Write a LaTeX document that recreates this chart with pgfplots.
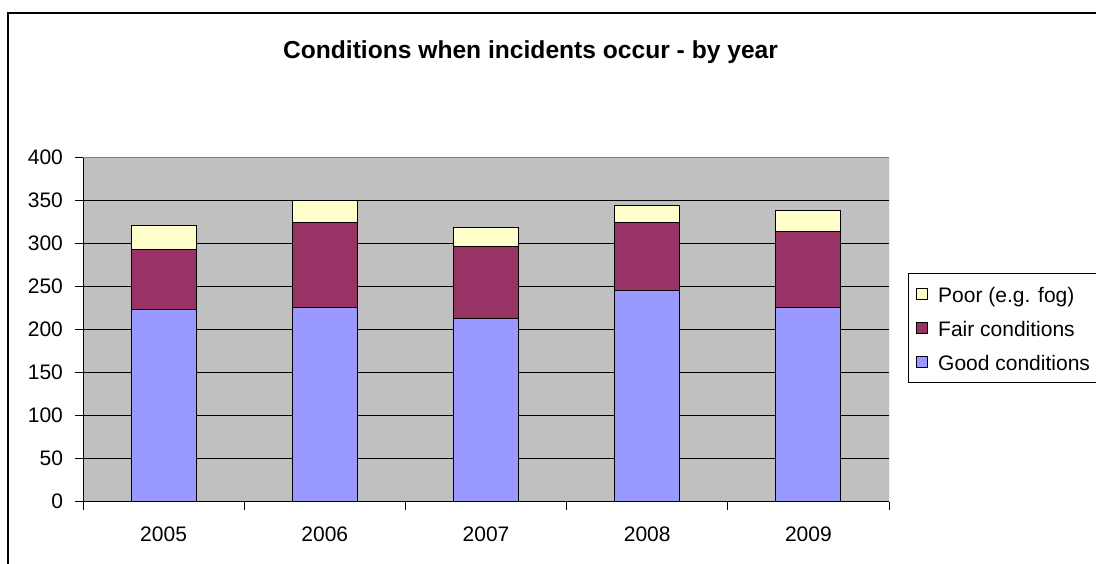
\documentclass[border=0pt]{standalone}
\usepackage{fontspec}
\setmainfont{Liberation Sans}
\usepackage{pgfplots}
\usepackage{pgfplotstable}
\pgfplotsset{compat=1.18}

\definecolor{good}{HTML}{9999FF}
\definecolor{fair}{HTML}{993366}
\definecolor{poor}{HTML}{FFFFCC}
\definecolor{plotbg}{HTML}{C0C0C0}

\pgfplotstableread{
idx good fair poor
0   223  70   27
1   225  99   25
2   213  83   22
3   245  79   20
4   225  89   24
}\incidents

\begin{document}
\begin{tikzpicture}
\begin{axis}[
    at={(41.5pt,30.65pt)}, anchor=south west,
    scale only axis,
    width=403pt, height=172.35pt,
    ybar stacked, bar width=32.5pt,
    xmin=-0.5, xmax=4.5,
    ymin=0, ymax=400,
    ytick={0,50,...,400},
    xtick={0,...,4},
    xticklabels={2005,2006,2007,2008,2009},
    minor xtick={-0.5,0.5,...,4.5},
    axis lines*=left,
    axis line style={black, line width=0.5pt, -},
    tick align=outside,
    major tick length=4pt,
    minor tick length=4pt,
    major x tick style={draw=none},
    minor x tick style={black, line width=0.5pt},
    y tick style={black, line width=0.5pt},
    ymajorgrids,
    major grid style={black, line width=0.5pt},
    axis background/.style={fill=plotbg},
    /pgf/number format/assume math mode=true,
    tick label style={font=\fontsize{10.5}{12}\selectfont},
    yticklabel style={xshift=-2.5pt},
    xticklabel style={yshift=-5.2pt},
    title={\textbf{Conditions when incidents occur - by year}},
    title style={at={(axis description cs:0.5552,1.2698)}, anchor=center,
                 font=\fontsize{12.3}{14}\selectfont},
    reverse legend,
    legend image code/.code={\draw[#1] (0pt,-2.6pt) rectangle (5.2pt,2.6pt);},
    legend style={at={(axis description cs:1.0232,0.6626)}, anchor=north west,
                  draw=black, line width=0.5pt,
                  font=\fontsize{10.5}{12}\selectfont,
                  inner xsep=4pt, inner ysep=5pt,
                  row sep=6.7pt,
                  nodes={inner sep=0pt, text height=9.1pt, text depth=1.2pt},
                  /tikz/every odd column/.append style={column sep=5.3pt}},
    legend cell align=left,
]
\addplot[fill=good, draw=black, line width=0.5pt] table[x=idx, y=good] {\incidents};
\addplot[fill=fair, draw=black, line width=0.5pt] table[x=idx, y=fair] {\incidents};
\addplot[fill=poor, draw=black, line width=0.5pt] table[x=idx, y=poor] {\incidents};
\legend{Good conditions, Fair conditions, Poor (e.g. fog)}
\draw[gray, line width=0.5pt] (rel axis cs:0,1) -- (rel axis cs:1,1) -- (rel axis cs:1,0);
\end{axis}
% chart area frame, cut off on the right and bottom like the reference
\draw[black, line width=0.6pt] (4pt,-5pt) -- (4pt,275pt) -- (560pt,275pt);
\pgfresetboundingbox
\useasboundingbox (0pt,0pt) rectangle (548pt,281.5pt);
\end{tikzpicture}
\end{document}
